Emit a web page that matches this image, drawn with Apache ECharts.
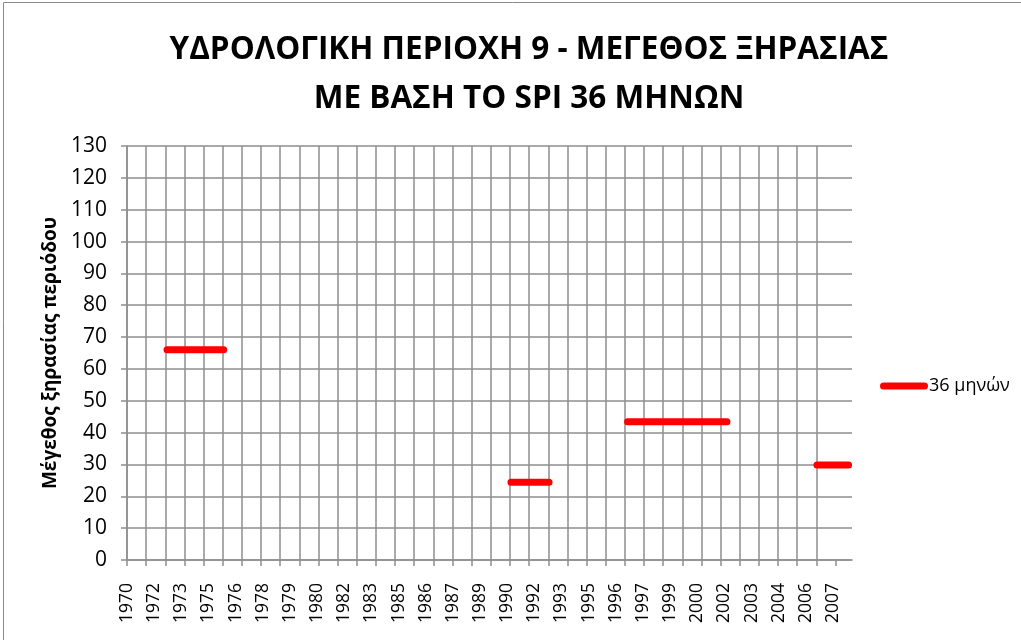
<!DOCTYPE html>
<html>
<head>
<meta charset="utf-8">
<script src="https://cdn.jsdelivr.net/npm/echarts@6/dist/echarts.min.js"></script>
<style>html,body{margin:0;padding:0;background:#fff}#c{width:1021px;height:640px}</style>
</head>
<body>
<div id="c"></div>
<script>
// ---- DATA ----
var tickLabels = ['1970','1972','1973','1975','1976','1978','1979','1980','1982','1983','1985','1986','1987','1989','1990','1992','1993','1995','1996','1997','1999','2000','2002','2003','2004','2006','2007'];
var droughtStart = [1972.09, 1990.05, 1996.14, 2006.03];
var droughtEnd   = [1975.05, 1992.04, 2001.33, 2007.68];
var droughtMagnitude = [66, 24.4, 43.4, 29.8];
var seriesName = '36 μηνών';

// ---- build ----
var pts = [];
for (var i = 0; i < droughtStart.length; i++) {
  pts.push([droughtStart[i], droughtMagnitude[i]]);
  pts.push([droughtEnd[i], droughtMagnitude[i]]);
  if (i < droughtStart.length - 1) pts.push([(droughtEnd[i] + droughtStart[i + 1]) / 2, '-']);
}
var gridYears = [];
for (var y = 1970; y <= 2007; y++) gridYears.push(y);
var labelIdx = tickLabels.map(function (_, i) { return i; });

var FONT = 'Open Sans';
var gridColor = '#8e8e8e';
var chart = echarts.init(document.getElementById('c'));
chart.setOption({
  animation: false,
  backgroundColor: '#fff',
  graphic: [{
    type: 'rect', shape: { x: 3.5, y: 2.5, width: 1200, height: 800 },
    style: { fill: 'none', stroke: '#8a8a8a', lineWidth: 1 }, z: -10, silent: true
  }],
  title: {
    text: 'ΥΔΡΟΛΟΓΙΚΗ ΠΕΡΙΟΧΗ 9 - ΜΕΓΕΘΟΣ ΞΗΡΑΣΙΑΣ\nΜΕ ΒΑΣΗ ΤΟ SPI 36 ΜΗΝΩΝ',
    left: 524, textAlign: 'center', top: 21,
    textStyle: { fontFamily: FONT, fontWeight: 'bold', fontSize: 31.5, lineHeight: 49, color: '#000' }
  },
  legend: {
    left: 875, top: 372, orient: 'vertical',
    icon: 'path://M3.5,0 H44.5 A3.5,3.5 0 0 1 44.5,7 H3.5 A3.5,3.5 0 0 1 3.5,0 Z',
    itemWidth: 48, itemHeight: 7, itemGap: 2,
    itemStyle: { color: '#ff0000' },
    textStyle: { fontFamily: FONT, fontSize: 18, color: '#000', padding: [0, 0, 0, -4] },
    data: [seriesName]
  },
  grid: { left: 127, right: 169, top: 146, bottom: 80, containLabel: false },
  xAxis: [{
    type: 'value', min: 1970, max: 2007.86,
    axisLine: { show: true, lineStyle: { color: gridColor, width: 1.5 } },
    axisTick: { show: true, length: 6, customValues: gridYears, lineStyle: { color: gridColor, width: 1.5 } },
    axisLabel: { show: false },
    splitLine: { show: true, showMaxLine: false, lineStyle: { color: gridColor, width: 1.5 } }
  }, {
    type: 'value', min: 0, max: 26.7, position: 'bottom',
    axisLine: { show: false }, axisTick: { show: false }, splitLine: { show: false },
    axisLabel: {
      show: true, rotate: 90, margin: 23, customValues: labelIdx,
      fontFamily: FONT, fontSize: 17.5, color: '#000',
      formatter: function (v) { return tickLabels[Math.round(v)] || ''; }
    }
  }],
  yAxis: {
    type: 'value', min: 0, max: 130, interval: 10,
    name: 'Μέγεθος ξηρασίας περιόδου', nameLocation: 'middle', nameRotate: 90, nameGap: 66,
    nameTextStyle: { fontFamily: FONT, fontWeight: 'bold', fontSize: 19, color: '#000' },
    axisLine: { show: true, lineStyle: { color: gridColor, width: 1.5 } },
    axisTick: { show: true, length: 6, lineStyle: { color: gridColor, width: 1.5 } },
    axisLabel: { margin: 20, fontFamily: FONT, fontSize: 21, color: '#000' },
    splitLine: { show: true, lineStyle: { color: gridColor, width: 1.5 } }
  },
  series: [{
    name: seriesName, type: 'line', xAxisIndex: 0, data: pts,
    symbol: 'none', connectNulls: false,
    lineStyle: { color: '#ff0000', width: 7, cap: 'round' },
    itemStyle: { color: '#ff0000' }
  }]
});
</script>
</body>
</html>
